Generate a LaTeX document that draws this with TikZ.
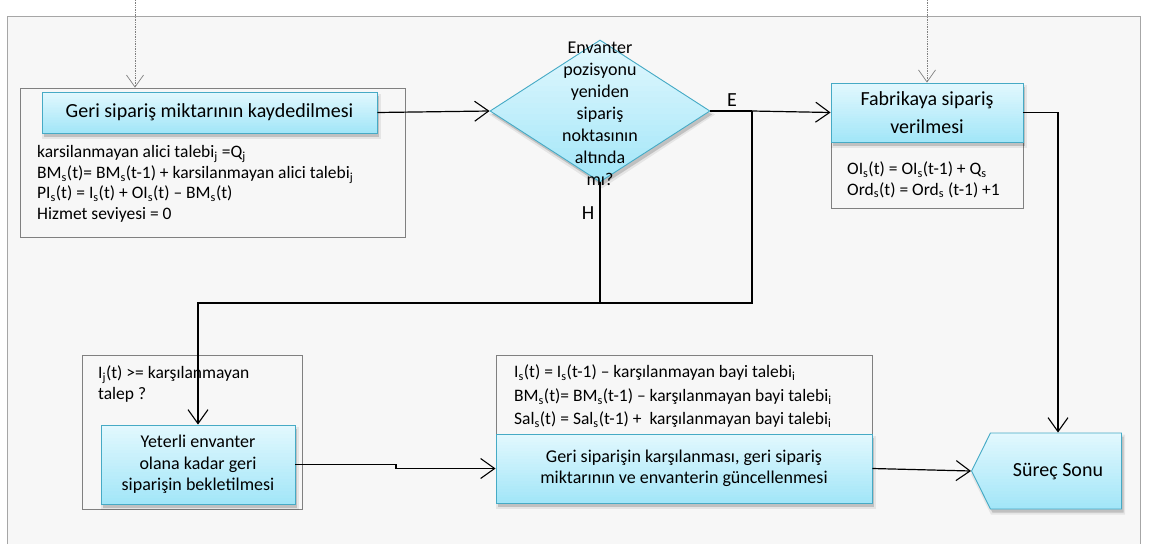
\documentclass[tikz,border=0pt]{standalone}
\usepackage{fontspec}
\setmainfont{Carlito}
\usetikzlibrary{arrows.meta,shapes.geometric,shapes.symbols,calc}
\definecolor{framefill}{HTML}{F7F7F7}
\definecolor{frameline}{HTML}{A6A6A6}
\definecolor{boxline}{HTML}{808080}
\definecolor{blueline}{HTML}{46AAC5}
\definecolor{bluetop}{HTML}{E2F8FE}
\definecolor{bluebot}{HTML}{A3E6F8}
\newcommand\lo[1]{\textsubscript{#1}}
% vertical light-to-cyan gradient painted in thin bands
\newcommand\bluegrad{%
  \foreach \i in {0,...,24}{%
    \pgfmathtruncatemacro\p{round(\i*100/24)}%
    \fill[bluebot!\p!bluetop]
      ($(path picture bounding box.north west)!{\i/25}!(path picture bounding box.south west)$)
      rectangle
      ($(path picture bounding box.north east)!{(\i+1.3)/25}!(path picture bounding box.south east)$);}}
\begin{document}
\begin{tikzpicture}[x=1pt,y=-1pt,
  bluebox/.style={draw=blueline, line width=0.9pt, fill=bluebot, path picture={\bluegrad},
    align=center, inner sep=0pt},
  shadeout/.style={fill=black, opacity=0.07, draw=none, inner sep=0pt},
  shadein/.style={fill=black, opacity=0.16, draw=none, inner sep=0pt},
  holder/.style={draw=boxline, line width=0.7pt, inner sep=0pt},
  notes/.style={align=left, inner sep=0pt, anchor=west, font=\fontsize{17.5}{20.5}\selectfont},
  title/.style={font=\fontsize{20}{24}\selectfont},
  body/.style={font=\fontsize{18}{21.5}\selectfont},
  endshape/.style={signal, signal to=west, signal from=nowhere, signal pointer angle=127},
  flow/.style={line width=1.2pt, -{Straight Barb[length=14pt,width=20pt,line width=1.1pt]}},
  plain/.style={line width=1.2pt},
  feed/.style={densely dotted, draw=gray, line width=0.7pt, -{Straight Barb[length=12pt,width=17pt,line width=0.7pt]}},
]
\useasboundingbox (0,0) rectangle (1149,544);

% background panel (open at the bottom)
\fill[framefill] (7,16) rectangle (1140,544);
\draw[frameline, line width=0.8pt] (7,544) -- (7,16) -- (1140,16) -- (1140,544);

% containers holding a step and its formulas
\node[holder, minimum width=385pt, minimum height=149pt] (cont1) at (212.5,162.5) {};
\node[holder, minimum width=192pt, minimum height=125pt] (cont4) at (927,145.5) {};
\node[holder, minimum width=220pt, minimum height=154pt] (cont3) at (192,432) {};
\node[holder, minimum width=376pt, minimum height=148pt] (cont2) at (684,429) {};

% soft shadows under the coloured shapes
\node[shadeout, minimum width=339pt, minimum height=45pt] (recS1) at (211.5,116) {};
\node[shadein, minimum width=335pt, minimum height=41pt] (recS2) at (211.5,116) {};
\node[shadeout, minimum width=196pt, minimum height=63pt] (fabS1) at (929,116) {};
\node[shadein, minimum width=192pt, minimum height=59pt] (fabS2) at (929,116) {};
\node[shadeout, minimum width=198pt, minimum height=83pt] (waitS1) at (200,468) {};
\node[shadein, minimum width=194pt, minimum height=79pt] (waitS2) at (200,468) {};
\node[shadeout, minimum width=380pt, minimum height=73pt] (fillS1) at (686,472) {};
\node[shadein, minimum width=376pt, minimum height=69pt] (fillS2) at (686,472) {};
\node[shadeout, diamond, minimum width=226pt, minimum height=148pt] (decS1) at (602,114.5) {};
\node[shadein, diamond, minimum width=220pt, minimum height=142pt] (decS2) at (602,114.5) {};
\node[shadeout, endshape, minimum width=154pt, minimum height=80pt] (endS1) at (1058,474.5) {};
\node[shadein, endshape, minimum width=150pt, minimum height=76pt] (endS2) at (1058,474.5) {};

% process steps
\node[bluebox, title, minimum width=335pt, minimum height=41pt] (rec) at (209.5,112.5)
  {Geri sipariş miktarının kaydedilmesi};
\node[bluebox, title, minimum width=192pt, minimum height=59pt, font=\fontsize{20}{28}\selectfont] (fab) at (927,112.5)
  {Fabrikaya sipariş\\verilmesi};
\node[bluebox, body, minimum width=194pt, minimum height=79pt] (wait) at (198,464.5)
  {Yeterli envanter\\olana kadar geri\\siparişin bekletilmesi};
\node[bluebox, body, minimum width=376pt, minimum height=69pt] (fill) at (684,468.5)
  {Geri siparişin karşılanması, geri sipariş\\miktarının ve envanterin güncellenmesi};

% decision
\node[bluebox, diamond, minimum width=220pt, minimum height=142pt] (dec) at (600,111) {};
\node[align=center, inner sep=0pt, font=\fontsize{18}{22}\selectfont] (dectext) at (600,113.5)
  {Envanter\\pozisyonu\\yeniden\\sipariş\\noktasının\\altında\\mı?};

% end of process
\node[bluebox, endshape, minimum width=150pt, minimum height=76pt] (end) at (1056,471) {};
\node[title, inner sep=0pt] (endtext) at (1058,472) {Süreç Sonu};

% formulas
\node[notes] (f1) at (37,184)
  {karsilanmayan alici talebi\lo{j} =Q\lo{j}\\
   BM\lo{s}(t)= BM\lo{s}(t-1) + karsilanmayan alici talebi\lo{j}\\
   PI\lo{s}(t) = I\lo{s}(t) + OI\lo{s}(t) – BM\lo{s}(t)\\
   Hizmet seviyesi = 0};
\node[notes] (f4) at (847,180)
  {OI\lo{s}(t) = OI\lo{s}(t-1) + Q\lo{s}\\
   Ord\lo{s}(t) = Ord\lo{s} (t-1) +1};
\node[notes] (f3) at (98,384)
  {I\lo{j}(t) >= karşılanmayan\\talep ?};
\node[notes, font=\fontsize{17.5}{23.5}\selectfont] (f2) at (514,396.5)
  {I\lo{s}(t) = I\lo{s}(t-1) – karşılanmayan bayi talebi\lo{i}\\
   BM\lo{s}(t)= BM\lo{s}(t-1) – karşılanmayan bayi talebi\lo{i}\\
   Sal\lo{s}(t) = Sal\lo{s}(t-1) +\ \ karşılanmayan bayi talebi\lo{i}};

% branch labels
\node[title, inner sep=0pt] (lblE) at (732,100) {E};
\node[title, inner sep=0pt] (lblH) at (588,213) {H};

% incoming dotted links
\coordinate (in1) at (135,0);
\coordinate (in2) at (927,0);
\draw[feed] (in1) -- (in1 |- cont1.north);
\draw[feed] (in2) -- (in2 |- fab.north);

% connectors
\coordinate (j1) at (752,111);
\coordinate (j2) at (752,303);
\coordinate (j3) at (1058,112.5);
\coordinate (k1) at (396,0);
\draw[flow] (rec.east) -- (dec.west);
\draw[plain] (dec.east) -- (j1);
\draw[flow] (j1) -- (fab.west);
\draw[flow] (j1) -- (j2) -| (wait.north);
\draw[plain] (dec.south) -- (dec.south |- j2);
\draw[flow] (fab.east) -- (j3) -- (j3 |- end.north);
\draw[flow] (wait.east) -- (wait.east -| k1) |- (fill.west);
\draw[flow] (fill.east) -- (end.west);
\end{tikzpicture}
\end{document}
